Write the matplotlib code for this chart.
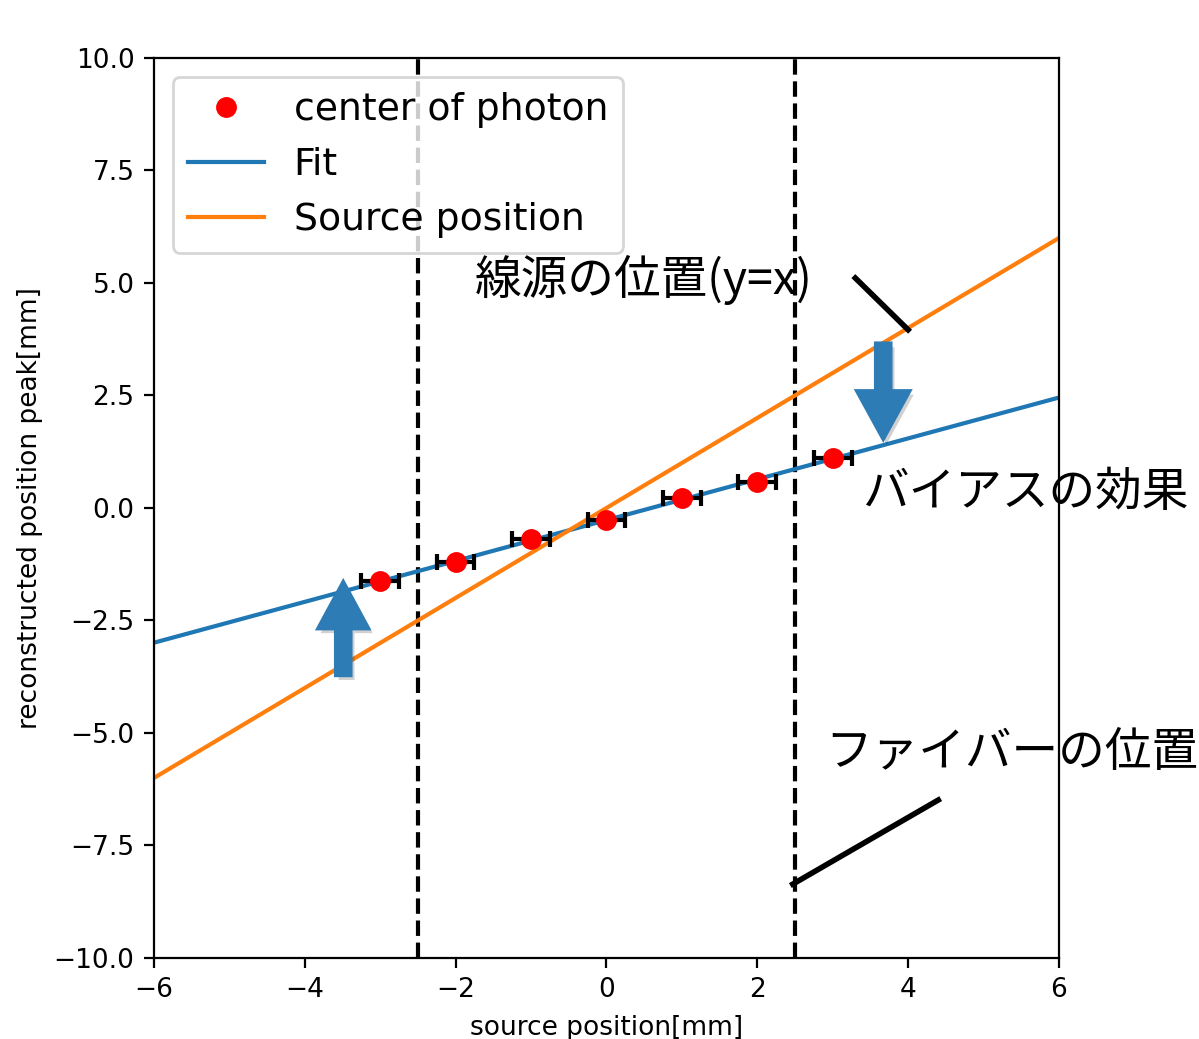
import numpy as np
import matplotlib
matplotlib.use("Agg")
import matplotlib.pyplot as plt
import matplotlib.patheffects as pe
from matplotlib.patches import FancyArrow

plt.rcParams['font.family'] = ['DejaVu Sans', 'Noto Sans CJK JP']

# data
source_x = [-3, -2, -1, 0, 1, 2, 3]
peak_y = [-1.62, -1.20, -0.69, -0.27, 0.22, 0.58, 1.11]
x_err = [0.25] * 7
fit_slope = 0.454
fit_intercept = -0.27
fiber_pos = [-2.5, 2.5]
line_x = [-6, 6]

fig = plt.figure(figsize=(5.995, 5.195), dpi=200)
ax = fig.add_axes([0.1284, 0.078, 0.7548, 0.8662])

ax.errorbar(source_x, peak_y, xerr=x_err, fmt='none', ecolor='k', capsize=3, elinewidth=1.5, capthick=1.5, zorder=3)
ax.plot(source_x, peak_y, 'o', color='red', markersize=6.5, label='center of photon', zorder=4)
lx = np.array(line_x, dtype=float)
ax.plot(lx, fit_slope * lx + fit_intercept, color='#1f77b4', lw=1.5, label='Fit', zorder=2)
ax.plot(lx, lx, color='#ff7f0e', lw=1.5, label='Source position', zorder=2)
for xv in fiber_pos:
    ax.axvline(xv, color='k', ls='--', lw=1.5, zorder=1)

ax.set_xlim(-6, 6)
ax.set_ylim(-10, 10)
ax.set_xticks([-6, -4, -2, 0, 2, 4, 6])
ax.set_yticks([-10, -7.5, -5, -2.5, 0, 2.5, 5, 7.5, 10])
ax.tick_params(labelsize=9.5)
ax.set_xlabel('source position[mm]', fontsize=9.5, labelpad=4)
ax.set_ylabel('reconstructed position peak[mm]', fontsize=9.5)

leg = ax.legend(loc='upper left', fontsize=13.6, framealpha=0.8)

# arrows
shadow = [pe.SimplePatchShadow(offset=(1.2, -1.5), shadow_rgbFace='k', alpha=0.18), pe.Normal()]
a1 = FancyArrow(-3.49, -3.73, 0, 2.11, width=0.21, head_width=0.69, head_length=1.07,
                length_includes_head=True, color='#2e7cb5', zorder=5)
a2 = FancyArrow(3.67, 3.67, 0, -2.16, width=0.21, head_width=0.72, head_length=1.1,
                length_includes_head=True, color='#2e7cb5', zorder=5)
for a in (a1, a2):
    a.set_path_effects(shadow)
    ax.add_patch(a)

# annotation lines
ax.plot([3.30, 4.0], [5.11, 3.96], color='k', lw=2, zorder=6, clip_on=False)
ax.plot([2.47, 4.4], [-8.36, -6.49], color='k', lw=2, zorder=6, clip_on=False)

jp = ['Noto Sans CJK JP', 'DejaVu Sans']
ax.text(-1.74, 5.07, '線源の位置(y=x)', fontsize=16.8, family=jp, va='center', ha='left')
ax.text(3.39, 0.33, 'バイアスの効果', fontsize=16.8, family=jp, va='center', ha='left')
ax.text(2.90, -5.44, 'ファイバーの位置', fontsize=16.8, family=jp, va='center', ha='left')

fig.savefig('out.png', dpi=200)
